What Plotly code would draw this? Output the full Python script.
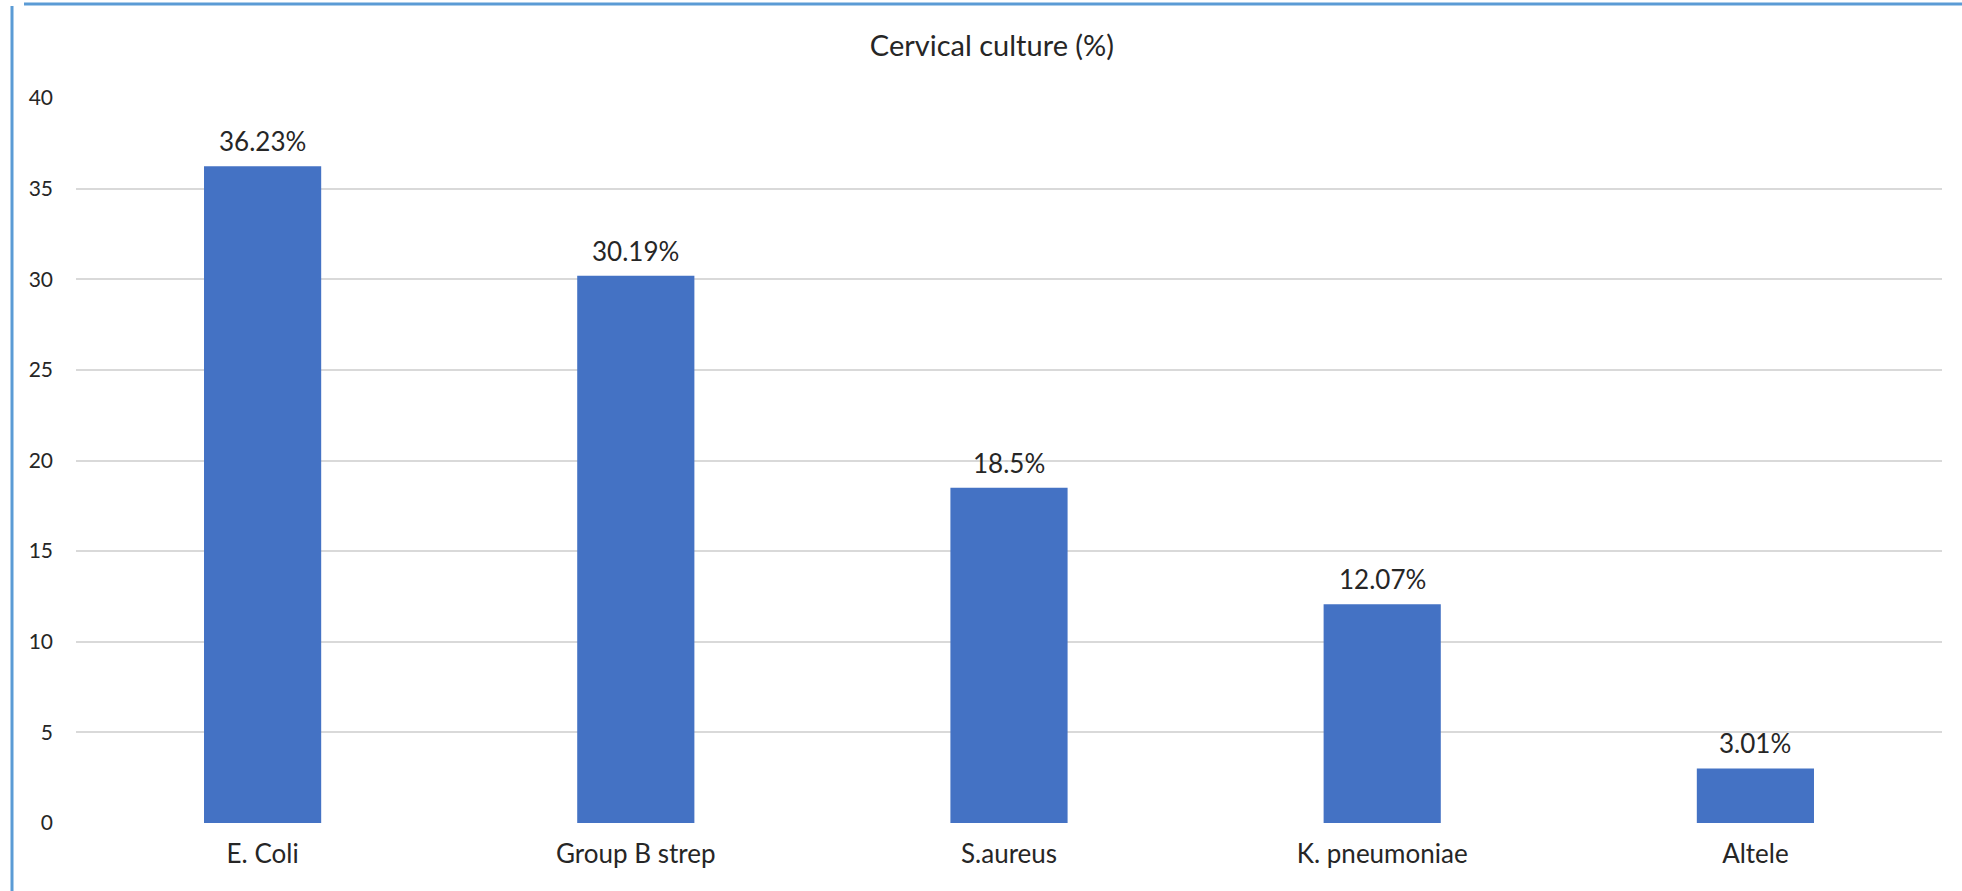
import plotly.graph_objects as go

categories = ["E. Coli", "Group B strep", "S.aureus", "K. pneumoniae", "Altele"]
values = [36.23, 30.19, 18.5, 12.07, 3.01]
labels = ["36.23%", "30.19%", "18.5%", "12.07%", "3.01%"]
y_ticks = [0, 5, 10, 15, 20, 25, 30, 35, 40]

FONT = "Lato, Carlito, Calibri, 'Liberation Sans', sans-serif"
TXT = "#262626"

fig = go.Figure()
fig.add_trace(go.Bar(
    x=categories, y=values,
    marker=dict(color="#4472C4", line=dict(width=0)),
    hoverinfo="x+y",
))

for c, v, t in zip(categories, values, labels):
    fig.add_annotation(x=c, y=v, text=t, showarrow=False, yanchor="bottom",
                       yshift=7, font=dict(size=26, color=TXT, family=FONT))

fig.update_layout(
    width=1962, height=891,
    margin=dict(l=76, r=20, t=98, b=68),
    paper_bgcolor="white", plot_bgcolor="white",
    bargap=0.686,
    showlegend=False,
    title=dict(text="Cervical culture (%)", x=0.5056, xanchor="center",
               y=1 - 46 / 891, yanchor="middle",
               font=dict(size=29, color=TXT, family=FONT)),
    font=dict(family=FONT, color=TXT),
)
fig.update_yaxes(range=[0, 40], tickvals=y_ticks, showgrid=True,
                 gridcolor="#D9D9D9", gridwidth=2, zeroline=False,
                 showline=False, ticks="", ticklabelstandoff=22,
                 tickfont=dict(size=21, color=TXT, family=FONT))
fig.update_xaxes(showgrid=False, showline=False, ticks="",
                 ticklabelstandoff=13,
                 tickfont=dict(size=26, color=TXT, family=FONT))

# chart frame (partial border visible in the reference)
fig.add_shape(type="line", xref="paper", yref="paper",
              x0=-64 / 1866, x1=-64 / 1866, y0=-68 / 725, y1=(725 + 92) / 725,
              line=dict(color="#5B9BD5", width=3))
fig.add_shape(type="line", xref="paper", yref="paper",
              x0=-52 / 1866, x1=1.02, y0=(725 + 94) / 725, y1=(725 + 94) / 725,
              line=dict(color="#5B9BD5", width=3))

fig.write_html("out.html")
